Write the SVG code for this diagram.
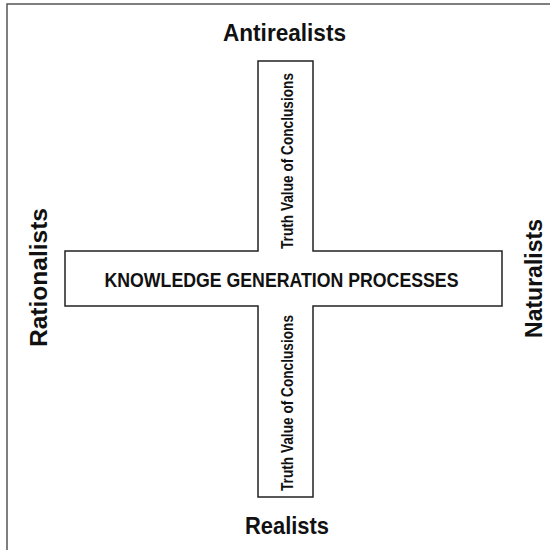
<svg xmlns="http://www.w3.org/2000/svg" width="550" height="550" viewBox="0 0 550 550">
  <style>
    .frame { fill: none; stroke: #555; stroke-width: 1.5; }
    .bar { fill: #fff; stroke: #222; stroke-width: 1.5; }
    text { font-family: "Liberation Sans Narrow", "Liberation Sans", Arial, sans-serif; fill: #111; text-anchor: middle; }
    .pole { font-weight: bold; font-size: 24.5px; }
    .axis { font-weight: bold; font-size: 17px; }
    .core { font-weight: bold; font-size: 20.5px; }
  </style>
  <rect width="550" height="550" fill="#fff"/>
  <rect class="frame" x="7" y="4" width="560" height="560"/>

  <!-- cross outline -->
  <g id="cross">
    <path class="bar" d="M258,61 H313 V251 H502 V306 H313 V497 H258 V306 H65 V251 H258 Z"/>
  </g>

  <g id="knowledge">
    <text class="core" x="281.5" y="287.3" textLength="354" lengthAdjust="spacingAndGlyphs">KNOWLEDGE GENERATION PROCESSES</text>
  </g>
  <g id="truth-top">
    <text class="axis" transform="translate(292.5,161) rotate(-90)" textLength="176" lengthAdjust="spacingAndGlyphs">Truth Value of Conclusions</text>
  </g>
  <g id="truth-bottom">
    <text class="axis" transform="translate(292.5,403) rotate(-90)" textLength="176" lengthAdjust="spacingAndGlyphs">Truth Value of Conclusions</text>
  </g>

  <g id="antirealists">
    <text class="pole" x="284.5" y="40.7" textLength="123" lengthAdjust="spacingAndGlyphs">Antirealists</text>
  </g>
  <g id="realists">
    <text class="pole" x="287" y="534.3" textLength="84" lengthAdjust="spacingAndGlyphs">Realists</text>
  </g>
  <g id="rationalists">
    <text class="pole" transform="translate(46.5,277.5) rotate(-90)" textLength="139" lengthAdjust="spacingAndGlyphs">Rationalists</text>
  </g>
  <g id="naturalists">
    <text class="pole" transform="translate(541.5,278.5) rotate(-90)" textLength="119" lengthAdjust="spacingAndGlyphs">Naturalists</text>
  </g>
</svg>
